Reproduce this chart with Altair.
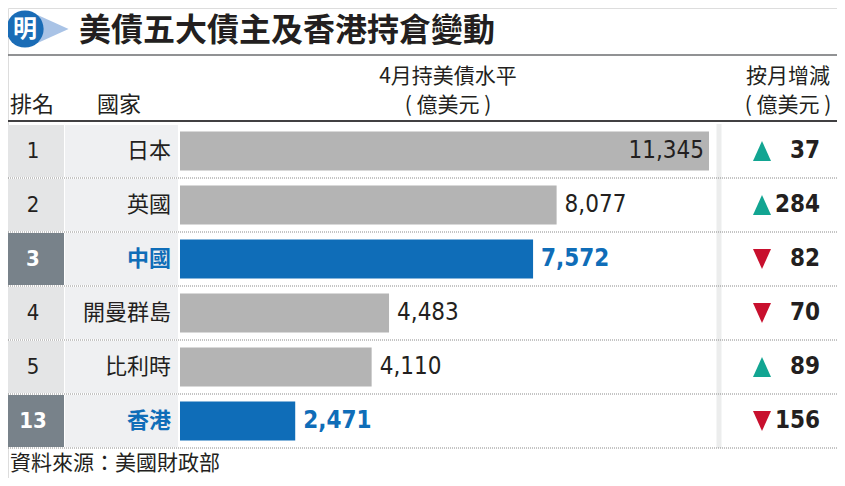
import altair as alt
import pandas as pd
import numpy as np

# ---------------- data ----------------
ranks = [1, 2, 3, 4, 5, 13]
countries = ["日本", "英國", "中國", "開曼群島", "比利時", "香港"]
holdings = [11345, 8077, 7572, 4483, 4110, 2471]
changes = [37, 284, -82, -70, 89, -156]
highlighted = ["中國", "香港"]

title_text = "美債五大債主及香港持倉變動"
source_text = "資料來源：美國財政部"
hdr_rank = "排名"
hdr_country = "國家"
hdr_hold = ["4月持美債水平", "( 億美元 )"]
hdr_change = ["按月增減", "( 億美元 )"]

df = pd.DataFrame({"rank": ranks, "country": countries, "value": holdings, "change": changes})
df["hl"] = df["country"].isin(highlighted)
df["abs_change"] = df["change"].abs()
df["label"] = df["value"].map(lambda v: f"{v:,}")
df["dir"] = np.where(df["change"] > 0, "up", "down")

one = pd.DataFrame({"k": [0]})

# ---------------- style ----------------
OX, OY = 8, 8
W, H = 829, 470
DARK = "#231f20"
BLUE = "#0f6db8"
GRAY_BAR = "#b4b4b4"
RANK_BG = "#e4e5e6"
RANK_HL = "#78828a"
CTRY_BG = "#eff0f2"
GREEN = "#12a592"
RED = "#c8102e"
CJK = "'Noto Sans CJK TC', sans-serif"
NUM = "'Liberation Sans Narrow', 'DejaVu Sans Condensed', 'Noto Sans CJK TC', sans-serif"


def X(v):
    return alt.value(v - OX)


def Y(v):
    return alt.value(v - OY)


yscale = alt.Scale(domain=countries, range=[124 - OY, 448 - OY], paddingInner=0, paddingOuter=0)
yenc = alt.Y("country:N", sort=countries, scale=yscale, axis=None)
xenc = alt.X("value:Q", scale=alt.Scale(domain=[0, max(holdings)], range=[180 - OX, 709 - OX], nice=False),
             axis=None)

base = alt.Chart(df)


def label(txt, x, y, size, align="left", weight="normal", color=DARK, font=CJK):
    return alt.Chart(one).mark_text(text=txt, align=align, baseline="middle", fontSize=size,
                                    fontWeight=weight, color=color, font=font).encode(x=X(x), y=Y(y))


def hline(y, x1, x2, color, width, dash=None):
    kw = dict(color=color, strokeWidth=width)
    if dash:
        kw["strokeDash"] = dash
    return alt.Chart(one).mark_rule(**kw).encode(x=X(x1), x2=X(x2), y=Y(y))


layers = []

# row backgrounds
layers.append(base.mark_bar(height={"band": 52 / 54}).encode(
    y=yenc, x=X(0), x2=X(64),
    color=alt.condition("datum.hl", alt.value(RANK_HL), alt.value(RANK_BG))))
layers.append(base.mark_bar(height={"band": 52 / 54}, color=CTRY_BG).encode(
    y=yenc, x=X(65), x2=X(178)))
# right divider strip
layers.append(alt.Chart(one).mark_rule(color="#eceded", strokeWidth=5).encode(
    x=X(719), y=Y(124), y2=Y(448)))

# bars
layers.append(base.mark_bar(height={"band": 39 / 54}).encode(
    y=yenc, x=xenc,
    color=alt.condition("datum.hl", alt.value(BLUE), alt.value(GRAY_BAR))))

# row separators (dotted)
layers.append(base.mark_rule(color="#8a8a8a", strokeWidth=1, strokeDash=[1, 1]).encode(
    y=alt.Y("country:N", sort=countries, scale=yscale, axis=None, bandPosition=1),
    x=X(0), x2=X(845)))

# value labels
vb = base.transform_joinaggregate(maxv="max(value)")
layers.append(vb.transform_filter("datum.value == datum.maxv").mark_text(
    align="right", baseline="middle", dx=-5, fontSize=24, font=NUM, color=DARK).encode(
    y=yenc, x=xenc, text="label:N"))
layers.append(vb.transform_filter("datum.value != datum.maxv && !datum.hl").mark_text(
    align="left", baseline="middle", dx=8, fontSize=24, font=NUM, color=DARK).encode(
    y=yenc, x=xenc, text="label:N"))
layers.append(vb.transform_filter("datum.value != datum.maxv && datum.hl").mark_text(
    align="left", baseline="middle", dx=8, fontSize=24, font=NUM, fontWeight="bold", color=BLUE).encode(
    y=yenc, x=xenc, text="label:N"))

# rank
layers.append(base.transform_filter("!datum.hl").mark_text(
    align="center", baseline="middle", fontSize=22, font=NUM, color=DARK).encode(
    y=yenc, x=X(33), text="rank:N"))
layers.append(base.transform_filter("datum.hl").mark_text(
    align="center", baseline="middle", fontSize=22, font=NUM, fontWeight="bold", color="white").encode(
    y=yenc, x=X(33), text="rank:N"))

# country
layers.append(base.transform_filter("!datum.hl").mark_text(
    align="right", baseline="middle", fontSize=22, font=CJK, color=DARK).encode(
    y=yenc, x=X(171), text="country:N"))
layers.append(base.transform_filter("datum.hl").mark_text(
    align="right", baseline="middle", fontSize=22, font=CJK, fontWeight="bold", color=BLUE).encode(
    y=yenc, x=X(171), text="country:N"))

# change triangles
up_path = "M-0.9,1L0.9,1L0,-1Z"
down_path = "M-0.9,-1L0.9,-1L0,1Z"
layers.append(base.mark_point(filled=True, opacity=1, size=400, strokeWidth=0).encode(
    y=yenc, x=X(762),
    shape=alt.Shape("dir:N", scale=alt.Scale(domain=["up", "down"], range=[up_path, down_path]), legend=None),
    color=alt.Color("dir:N", scale=alt.Scale(domain=["up", "down"], range=[GREEN, RED]), legend=None)))
layers.append(base.mark_text(align="right", baseline="middle", fontSize=24, font=NUM, fontWeight="bold",
                             color=DARK).encode(y=yenc, x=X(820), text="abs_change:Q"))

# header
layers += [
    label(hdr_rank, 10, 105, 22),
    label(hdr_country, 97, 105, 22),
    label(hdr_hold[0], 448, 77, 21, align="center"),
    label(hdr_hold[1], 448, 106, 21, align="center"),
    label(hdr_change[0], 788, 77, 21, align="center"),
    label(hdr_change[1], 788, 106, 21, align="center"),
    hline(121, 0, 845, "#414042", 2),
    hline(55, 0, 845, "#6d6e71", 1.5),
]

# title + logo
layers.append(alt.Chart(one).mark_point(filled=True, opacity=1, size=1100, color="#a9c3e6", strokeWidth=0,
                                        shape="M-1,-0.9L1,0L-1,0.9Z").encode(x=X(52), y=Y(29)))
layers.append(alt.Chart(one).mark_point(filled=True, opacity=1, size=1385, color="#1a6cb6", strokeWidth=0,
                                        shape="circle").encode(x=X(25), y=Y(29)))
layers.append(label("明", 25, 30, 24, align="center", weight="bold", color="white"))
layers.append(label(title_text, 79, 31, 32, weight="bold"))

# footer
layers.append(label(source_text, 10, 464, 21))

chart = alt.layer(*layers).properties(width=W, height=H, padding=0, autosize="none").configure_view(
    stroke=None).configure(background="white")

chart.save("out.html", embed_options={"renderer": "svg", "actions": False})
